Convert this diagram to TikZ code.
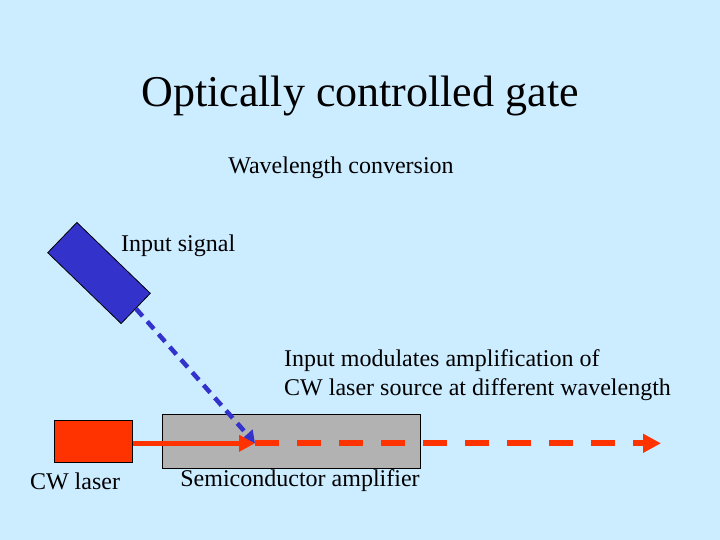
\documentclass[tikz,border=0pt]{standalone}
\usepackage{fontspec}
\setmainfont{Liberation Serif}
\usetikzlibrary{arrows.meta}
\definecolor{bg}{RGB}{204,236,255}
\definecolor{sigblue}{RGB}{51,51,204}
\definecolor{lasred}{RGB}{255,51,0}
\definecolor{ampgray}{RGB}{178,178,178}
\tikzset{lbl/.style={inner sep=0pt,font=\fontsize{24}{29}\selectfont},
 box/.style={draw=black,line width=0.8pt,inner sep=0pt}}
\begin{document}
\begin{tikzpicture}[x=1pt,y=-1pt]
\fill[bg] (0,0) rectangle (720,540);
\useasboundingbox (0,0) rectangle (720,540);
\node[inner sep=0pt,font=\fontsize{44}{48}\selectfont] (title) at (360,96) {Optically controlled gate};
\node[lbl] (wc) at (341,168) {Wavelength conversion};
\node[box,fill=sigblue,minimum width=102pt,minimum height=42pt,rotate=-44] (sig) at (99,273) {};
\node[lbl,anchor=west] (is) at (121,246) {Input signal};
\node[box,fill=ampgray,minimum width=258pt,minimum height=54pt] (amp) at (291.7,441.3) {};
\node[box,fill=lasred,minimum width=78pt,minimum height=42pt] (las) at (93.2,441.3) {};
\node[lbl] (cw) at (75,481) {CW laser};
\node[lbl] (sa) at (300,481) {Semiconductor amplifier};
\node[lbl,anchor=west,align=left] (im) at (284,375.5) {Input modulates amplification of\\CW laser source at different wavelength};
\coordinate (hit) at (255,443.3);
\coordinate (out) at (661,443.3);
\draw[sigblue,line width=4.5pt,dash pattern=on 10pt off 7pt,-{Triangle[length=12pt,width=14pt]}] (sig.east) -- (hit);
\draw[lasred,line width=5.5pt,-{Triangle[length=16pt,width=16pt]}] (las.east |- hit) -- (hit);
\draw[lasred,line width=6pt,dash pattern=on 24pt off 18pt,-{Triangle[length=18pt,width=18pt]}] (hit) -- (out);
\end{tikzpicture}
\end{document}
